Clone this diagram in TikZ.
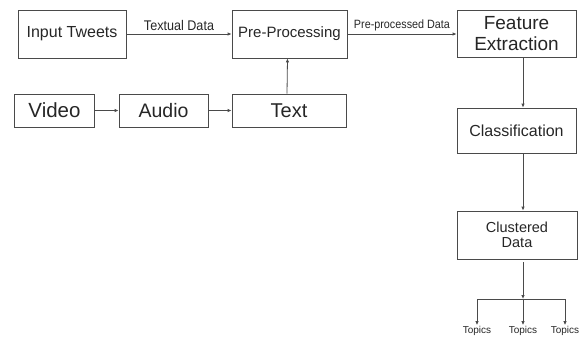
\documentclass[tikz,border=0pt]{standalone}
\usepackage{fontspec}
\setmainfont{Liberation Sans}
\newfontfamily\narrowfont[FakeStretch=0.9]{Liberation Sans}
\usetikzlibrary{arrows.meta,positioning}
\definecolor{linea}{HTML}{4A4A4A}
\definecolor{testo}{HTML}{262626}
\newcommand{\fs}[1]{\fontsize{#1}{#1}\selectfont}
\tikzset{
  blocco/.style={draw=linea,line width=0.8pt,text=testo,align=center,inner sep=2pt},
  freccia/.style={draw=linea,line width=0.8pt,-{Latex[length=4pt,width=3.5pt]}},
  linea/.style={draw=linea,line width=0.8pt},
  etichetta/.style={midway,above,text=testo,inner sep=3pt},
  argomento/.style={font=\fs{10},text=testo,inner sep=1pt}
}
\begin{document}
\begin{tikzpicture}[x=1pt,y=-1pt]
\useasboundingbox (0,0) rectangle (584,338);
% top row
\node[blocco,minimum width=108pt,minimum height=48pt,font=\fs{16}] (tweets) at (72,34) {Input Tweets};
\node[blocco,minimum width=115pt,minimum height=48pt,font=\fs{15}] (prep) at (289.5,34) {Pre-Processing};
\node[blocco,minimum width=119pt,minimum height=47pt,font=\fontsize{19}{21}\selectfont] (feat) at (516.5,34) {Feature\\Extraction};
% second row
\node[blocco,minimum width=80pt,minimum height=33pt,font=\fs{20.5}] (video) at (54.5,110.5) {Video};
\node[blocco,minimum width=89pt,minimum height=33pt,font=\fs{19.5}] (audio) at (163.5,110.5) {Audio};
\node[blocco,minimum width=114pt,minimum height=33pt,font=\fs{20}] (text) at (289,110.5) {Text};
% right column
\node[blocco,minimum width=119pt,minimum height=45pt,font=\fs{16}] (class) at (516.5,130.5) {Classification};
\node[blocco,minimum width=120pt,minimum height=48pt,font=\fontsize{14.5}{15.5}\selectfont] (clust) at (517,235) {Clustered\\Data};
\coordinate (spine) at (523,0);
\coordinate (nodo) at (523,299);
\coordinate (sx) at (477,299);
\coordinate (dx) at (565,299);
% topics
\node[argomento] (t1) at (477,331) {Topics};
\node[argomento] (t2) at (523,331) {Topics};
\node[argomento] (t3) at (565,331) {Topics};

\draw[freccia] (tweets) -- (prep) node[etichetta,font=\narrowfont\fs{14}]{Textual Data};
\draw[freccia] (prep) -- (feat) node[etichetta,font=\narrowfont\fs{12}]{Pre-processed Data};
\draw[freccia] (video) -- (audio);
\draw[freccia] (audio) -- (text);
\draw[freccia] ([xshift=-2pt]text.north) -- ([xshift=-2pt]prep.south);
\draw[freccia] (feat.south -| spine) -- (class.north -| spine);
\draw[freccia] (class.south -| spine) -- (clust.north -| spine);
\draw[freccia] ([yshift=-3pt]clust.south -| spine) -- (nodo);
\draw[linea] (sx) -- (dx);
\draw[freccia] (sx) -- (t1.north);
\draw[freccia] (nodo) -- (t2.north);
\draw[freccia] (dx) -- (t3.north);
\end{tikzpicture}
\end{document}
